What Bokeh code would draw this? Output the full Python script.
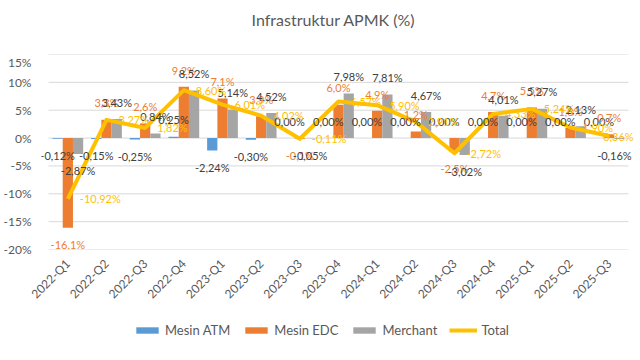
import math
from bokeh.plotting import figure
from bokeh.layouts import column
from bokeh.models import (ColumnDataSource, Range1d, FixedTicker,
                          PrintfTickFormatter, Legend, LegendItem, Label, LabelSet)
from bokeh.transform import dodge
from bokeh.core.properties import value
from bokeh.embed import file_html
from bokeh.resources import INLINE

quarters = ["2022-Q1", "2022-Q2", "2022-Q3", "2022-Q4",
            "2023-Q1", "2023-Q2", "2023-Q3", "2023-Q4",
            "2024-Q1", "2024-Q2", "2024-Q3", "2024-Q4",
            "2025-Q1", "2025-Q2", "2025-Q3"]
mesin_atm = [-0.12, -0.15, -0.25, 0.25, -2.24, -0.30, 0.00, 0.00,
             0.00, 0.00, 0.00, 0.00, 0.00, 0.00, 0.00]
mesin_edc = [-16.1, 3.3, 2.6, 9.2, 7.1, 3.9, -0.1, 6.0,
             4.9, 1.2, -2.5, 4.7, 5.5, 1.8, 0.7]
merchant = [-2.87, 3.43, 0.84, 8.52, 5.14, 4.52, -0.05, 7.98,
            7.81, 4.67, -3.02, 4.01, 5.27, 2.13, -0.16]
total = [-10.92, 3.27, 1.82, 8.60, 6.01, 4.02, -0.11, 6.57,
         5.90, 2.91, -2.72, 4.33, 5.24, 1.90, 0.36]
y_ticks = [-20, -15, -10, -5, 0, 5, 10, 15]
title_text = "Infrastruktur APMK (%)"

FONT = "Lato"
C_ATM, C_EDC, C_MER, C_TOT = "#5B9BD5", "#ED7D31", "#A5A5A5", "#FFC000"
GRAY_TXT = "#595959"
DARK_TXT = "#404040"
GRID = "#D9D9D9"

n = len(quarters)
xi = list(range(n))


def fmt(v, d):
    return (f"{v:.{d}f}").replace(".", ",") + "%"


LBL_OFF = 3.0  # label distance beyond bar end, in % units


def lab_y(vals):
    return [v + (LBL_OFF if v >= 0 else -LBL_OFF) for v in vals]


# small horizontal nudges so the right-most labels stay inside the page
tot_dx = [12] * (n - 1) + [-6]
mer_dx = [0] * (n - 1) + [-5]

src = ColumnDataSource(dict(
    x=xi, q=quarters, atm=mesin_atm, edc=mesin_edc, mer=merchant, tot=total,
    atm_t=[fmt(v, 2) for v in mesin_atm],
    edc_t=[fmt(v, 1) for v in mesin_edc],
    mer_t=[fmt(v, 2) for v in merchant],
    tot_t=[fmt(v, 2) for v in total],
    atm_y=lab_y(mesin_atm), edc_y=lab_y(mesin_edc), mer_y=lab_y(merchant),
    tot_dx=tot_dx, mer_dx=mer_dx,
))

FIG_W = 624
CAT_PX = 580 / 15.0
LEFT_EXTRA = 7 / CAT_PX
FRAME_W = 594
x_start = -0.5 - LEFT_EXTRA
x_end = x_start + FRAME_W / CAT_PX


def strip(h):
    f = figure(width=FIG_W, height=h, output_backend="svg",
               toolbar_location=None, x_range=Range1d(0, 1),
               y_range=Range1d(0, 1), min_border=0,
               x_axis_location=None, y_axis_location=None)
    f.grid.visible = False
    f.outline_line_color = None
    return f


# ---- title strip ----
TITLE_H = 54
pt = strip(TITLE_H)
pt.add_layout(Label(x=292, y=TITLE_H - 19, x_units="screen", y_units="screen",
                    text=title_text, text_font=FONT, text_font_size="16px",
                    text_color=GRAY_TXT, text_align="center",
                    text_baseline="middle"))

# ---- main chart ----
p = figure(frame_width=FRAME_W, frame_height=195,
           x_range=Range1d(x_start, x_end),
           y_range=Range1d(-20, 15), output_backend="svg", toolbar_location=None,
           min_border_left=30, min_border_right=0, min_border_top=0,
           min_border_bottom=55)
p.outline_line_color = None
p.background_fill_color = "white"
p.border_fill_color = "white"

p.xgrid.grid_line_color = None
p.ygrid.grid_line_color = None
# horizontal gridlines limited to the category area
p.segment(x0=-0.5, x1=n - 0.5, y0=y_ticks, y1=y_ticks, line_color=GRID,
          line_width=1)

p.yaxis.ticker = FixedTicker(ticks=y_ticks)
p.yaxis.formatter = PrintfTickFormatter(format="%d%%")
p.yaxis.axis_line_color = None
p.yaxis.major_tick_line_color = None
p.yaxis.minor_tick_line_color = None
p.yaxis.major_label_text_font = FONT
p.yaxis.major_label_text_font_size = "12px"
p.yaxis.major_label_text_color = GRAY_TXT
p.yaxis.major_label_standoff = 4

p.xaxis.ticker = FixedTicker(ticks=xi)
p.xaxis.major_label_overrides = {i: q for i, q in zip(xi, quarters)}
p.xaxis.axis_line_color = None
p.xaxis.major_tick_line_color = None
p.xaxis.minor_tick_line_color = None
p.xaxis.major_label_orientation = math.pi / 4
p.xaxis.major_label_text_font = FONT
p.xaxis.major_label_text_font_size = "12px"
p.xaxis.major_label_text_color = GRAY_TXT
p.xaxis.major_label_standoff = 6

W = 0.265
p.vbar(x=dodge("x", -W), top="atm", width=W, source=src,
       fill_color=C_ATM, line_color=None)
p.vbar(x="x", top="edc", width=W, source=src,
       fill_color=C_EDC, line_color=None)
p.vbar(x=dodge("x", W), top="mer", width=W, source=src,
       fill_color=C_MER, line_color=None)
p.line(x="x", y="tot", source=src, line_color=C_TOT, line_width=4,
       line_join="round")

common = dict(source=src, text_font=value(FONT), text_font_size="11px",
              text_align="center", text_baseline="middle")
p.add_layout(LabelSet(x=dodge("x", -W), y="atm_y", text="atm_t",
                      text_color=DARK_TXT, **common))
p.add_layout(LabelSet(x="x", y="edc_y", text="edc_t",
                      text_color=C_EDC, **common))
p.add_layout(LabelSet(x=dodge("x", W), y="mer_y", text="mer_t",
                      x_offset="mer_dx", text_color=DARK_TXT, **common))
p.add_layout(LabelSet(x="x", y="tot", text="tot_t", source=src,
                      text_font=value(FONT), text_font_size="11px",
                      text_align="left", text_baseline="middle",
                      x_offset="tot_dx", text_color=C_TOT))

# ---- legend strip (swatch glyphs sit far outside the visible range) ----
pl = strip(39)
l_atm = pl.vbar(x=[-1000], top=[-999], bottom=[-1000], width=0.1,
                fill_color=C_ATM, line_color=None)
l_edc = pl.vbar(x=[-1000], top=[-999], bottom=[-1000], width=0.1,
                fill_color=C_EDC, line_color=None)
l_mer = pl.vbar(x=[-1000], top=[-999], bottom=[-1000], width=0.1,
                fill_color=C_MER, line_color=None)
l_tot = pl.line(x=[-1001, -1000], y=[-1000, -1000], line_color=C_TOT,
                line_width=4)
legend = Legend(items=[
    LegendItem(label="Mesin ATM", renderers=[l_atm]),
    LegendItem(label="Mesin EDC", renderers=[l_edc]),
    LegendItem(label="Merchant", renderers=[l_mer]),
    LegendItem(label="Total", renderers=[l_tot]),
], orientation="horizontal", location=(92, 10),
    label_text_font=FONT, label_text_font_size="13px",
    label_text_color=GRAY_TXT, border_line_color=None,
    background_fill_alpha=0, glyph_width=28, glyph_height=8,
    spacing=12, padding=4, margin=0, label_standoff=4)
pl.add_layout(legend)

layout = column(pt, p, pl, spacing=0)
open("out.html", "w").write(file_html(layout, INLINE))
